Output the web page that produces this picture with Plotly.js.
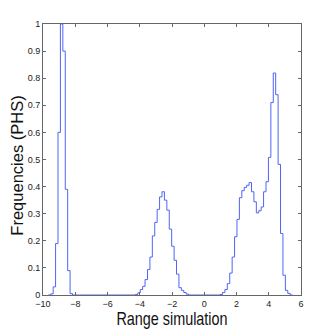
<!DOCTYPE html>
<html>
<head>
<meta charset="utf-8">
<script src="https://cdn.plot.ly/plotly-3.0.1.min.js"></script>
<style>
  html, body { margin: 0; padding: 0; background: #fff; }
  #plot { width: 332px; height: 332px; }
</style>
</head>
<body>
<div id="plot"></div>
<script>
// Histogram bins: left edge of the first bin and the bin width
const binStart = -9.67;
const binWidth = 0.15;

// Normalised frequency of each bin
const freqLeftPeak = [0, 0.004, 0.03, 0.19, 0.6, 1.0, 0.9, 0.39, 0.09, 0.005];
const freqGapA = [0, 0, 0, 0, 0, 0, 0, 0, 0, 0, 0, 0, 0, 0, 0, 0, 0, 0, 0, 0, 0, 0, 0, 0, 0, 0];
const freqMidPeak = [0.002, 0.008, 0.02, 0.032, 0.057, 0.094, 0.14, 0.218, 0.268, 0.316,
                     0.362, 0.381, 0.35, 0.313, 0.243, 0.18, 0.128, 0.077, 0.027, 0.017,
                     0.009, 0.003];
const freqGapB = [0, 0, 0, 0, 0, 0, 0, 0, 0, 0, 0, 0, 0, 0.002];
const freqRightPeak = [0.009, 0.02, 0.042, 0.081, 0.14, 0.215, 0.279, 0.359, 0.385, 0.397,
                       0.405, 0.415, 0.381, 0.344, 0.303, 0.311, 0.325, 0.381, 0.418, 0.508,
                       0.71, 0.819, 0.739, 0.482, 0.227, 0.073, 0.017, 0.006, 0];

const xTicks = [-10, -8, -6, -4, -2, 0, 2, 4, 6];
const yTicks = [0, 0.1, 0.2, 0.3, 0.4, 0.5, 0.6, 0.7, 0.8, 0.9, 1];

const freqs = [].concat(freqLeftPeak, freqGapA, freqMidPeak, freqGapB, freqRightPeak);

// stairs: each point is a bin's left edge, plus one closing point at the last right edge
const edges = freqs.map((_, i) => binStart + binWidth * i);
edges.push(binStart + binWidth * freqs.length);
const stairY = freqs.concat([freqs[freqs.length - 1]]);

const regular = '"Liberation Sans", Arial, sans-serif';

const trace = {
  x: edges,
  y: stairY,
  type: 'scatter',
  mode: 'lines',
  line: { shape: 'hv', color: 'rgb(80, 100, 245)', width: 1 },
  hoverinfo: 'skip'
};

const axisCommon = {
  showline: true,
  linecolor: '#666',
  linewidth: 1,
  mirror: 'ticks',
  ticks: 'inside',
  ticklen: 3,
  tickcolor: '#666',
  showgrid: false,
  zeroline: false,
  tickfont: { family: regular, size: 9, color: '#222' }
};

const layout = {
  width: 332,
  height: 332,
  margin: { l: 43, r: 31, t: 24, b: 37 },
  paper_bgcolor: '#fff',
  plot_bgcolor: '#fff',
  showlegend: false,
  xaxis: Object.assign({}, axisCommon, {
    range: [-10, 6],
    tickvals: xTicks,
    title: { text: 'Range simulation', font: { family: regular, size: 18, color: '#111' }, standoff: 3 }
  }),
  yaxis: Object.assign({}, axisCommon, {
    range: [0, 1],
    tickvals: yTicks,
    ticktext: yTicks.map(String),
    title: { text: 'Frequencies (PHS)', font: { family: regular, size: 16.5, color: '#111' }, standoff: 2 }
  })
};

Plotly.newPlot('plot', [trace], layout, { displayModeBar: false, staticPlot: true }).then(() => {
  // the reference x label is a narrow face; squeeze it horizontally round its centre
  const xt = document.querySelector('.xtitle');
  if (xt) {
    const cx = parseFloat(xt.getAttribute('x'));
    xt.setAttribute('transform', `translate(${cx},0) scale(0.8,1) translate(${-cx},0)`);
  }
  // the y label sits a little lower and further right than plotly centres it
  const yt = document.querySelector('.ytitle');
  if (yt) {
    const rot = yt.getAttribute('transform') || '';
    yt.setAttribute('transform', `translate(3,6) ${rot}`);
  }
});
</script>
</body>
</html>
